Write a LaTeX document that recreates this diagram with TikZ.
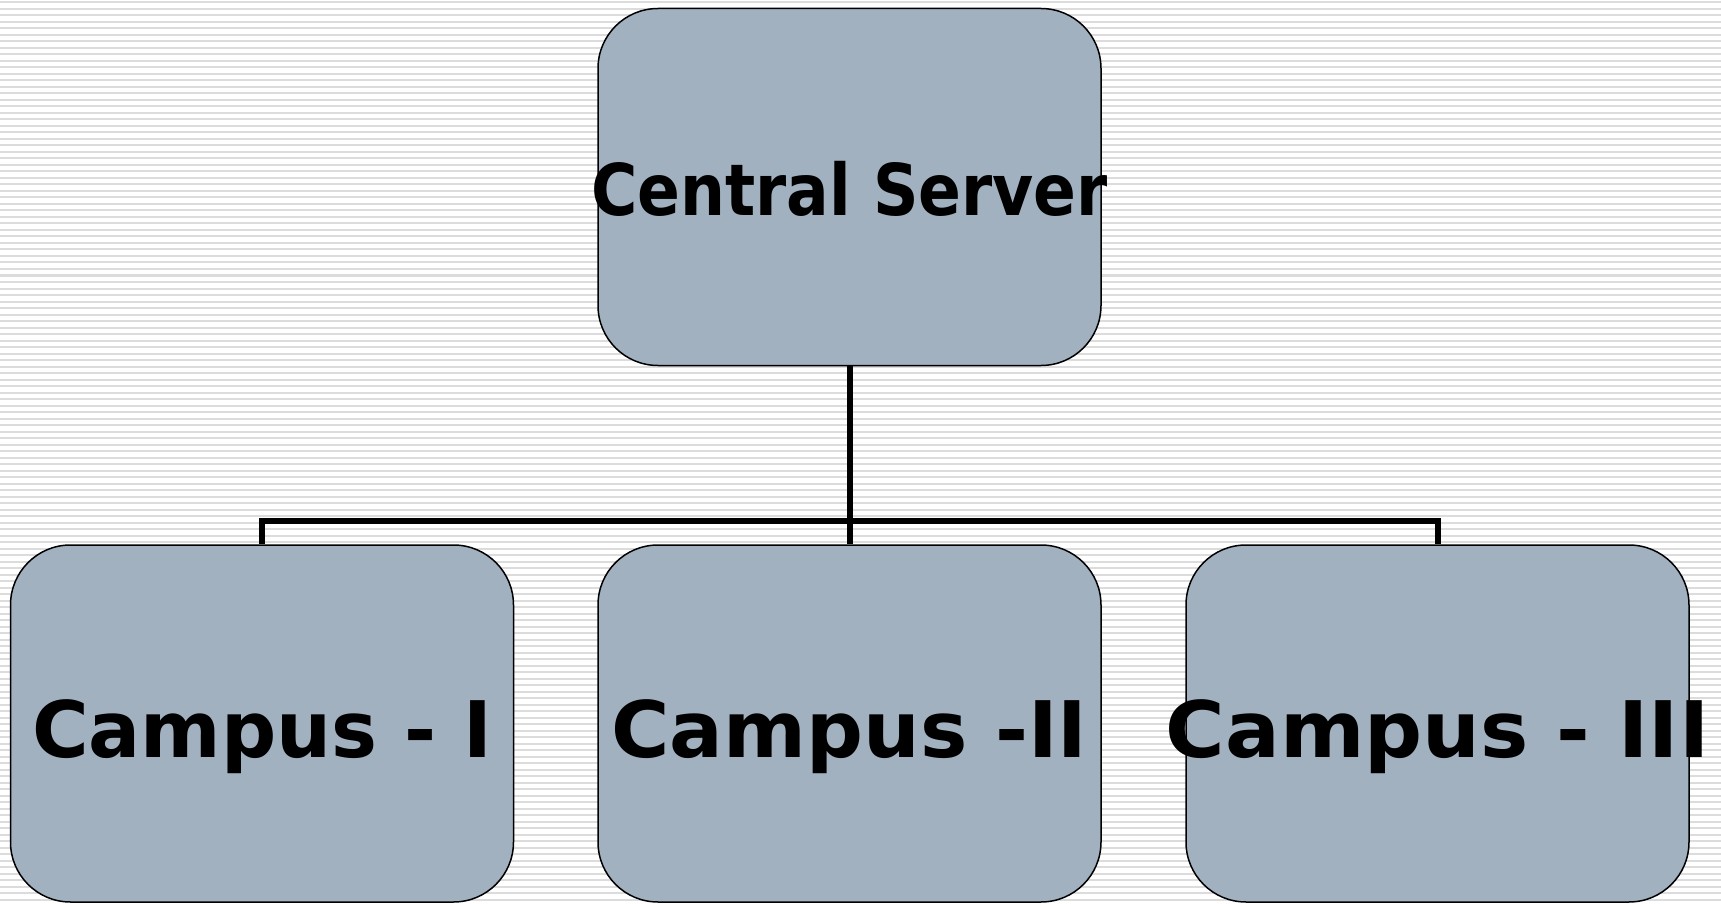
\documentclass[tikz,border=0pt]{standalone}
\usepackage{fontspec}
\setmainfont{DejaVu Sans}
\definecolor{boxfill}{HTML}{A2B1C0}
\definecolor{stripe}{HTML}{DCDCDC}
\tikzset{
  orgbox/.style={draw=black, line width=0.75pt, fill=boxfill, rounded corners=30pt,
    minimum width=251.5pt, minimum height=178.5pt, inner sep=0pt, font=\bfseries},
  link/.style={draw=black, line width=3pt}
}
\newcommand{\ctext}[3]{\makebox[0pt]{\raisebox{#2}[0pt][0pt]{\scalebox{#1}[1]{#3}}}}
\begin{document}
\begin{tikzpicture}[x=0.5pt, y=-0.5pt]
\useasboundingbox (0,0) rectangle (1721,904);
\fill[white] (0,0) rectangle (1721,904);
\foreach \k in {0,...,139} {
  \draw[stripe, line width=1pt] (0,{2.5+6.5*\k}) -- (1721,{2.5+6.5*\k});
}
\node[orgbox, font=\bfseries\fontsize{35.7pt}{40pt}\selectfont] (central) at (849.5,187) {\ctext{0.885}{-14.5pt}{Central Server}};
\node[orgbox, font=\bfseries\fontsize{39pt}{44pt}\selectfont] (c1) at (262,723.5) {\ctext{0.99}{-16.75pt}{Campus - I}};
\node[orgbox, font=\bfseries\fontsize{39pt}{44pt}\selectfont] (c2) at (849.5,723.5) {\ctext{1.02}{-16.75pt}{Campus -II}};
\node[orgbox, font=\bfseries\fontsize{39pt}{44pt}\selectfont] (c3) at (1437.5,723.5) {\ctext{1.04}{-16.75pt}{Campus - III}};
\coordinate (bus) at (849.5,521);
\draw[link] (central.south) -- (c2.north);
\draw[link] (c1.north) |- (bus) -| (c3.north);
\end{tikzpicture}
\end{document}
